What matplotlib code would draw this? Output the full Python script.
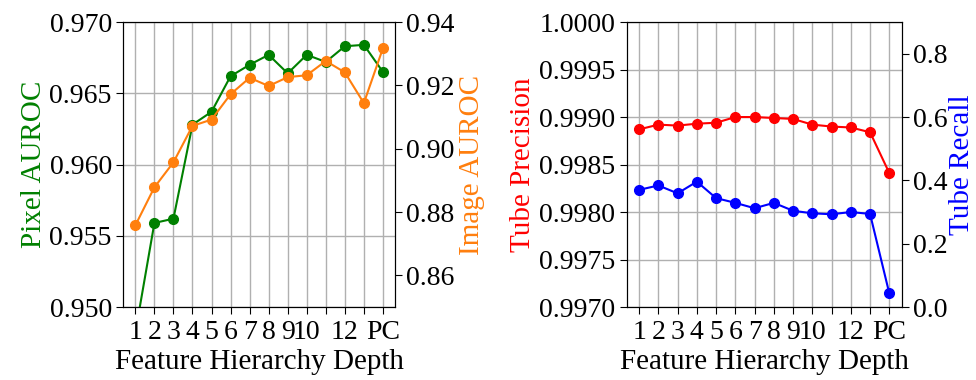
import matplotlib
matplotlib.use("Agg")
import matplotlib.pyplot as plt

plt.rcParams['font.family'] = ['Liberation Serif', 'DejaVu Serif']
plt.rcParams['font.size'] = 20
plt.rcParams['mathtext.fontset'] = 'stix'

positions = list(range(1, 15))
tick_labels = ['1', '2', '3', '4', '5', '6', '7', '8', '9', '10', '', '12', '', 'PC']

pixel_auroc = [0.9482, 0.9559, 0.9562, 0.9628, 0.9637, 0.9662, 0.9670, 0.9677,
               0.9664, 0.9677, 0.9672, 0.9683, 0.9684, 0.9665]
image_auroc = [0.8758, 0.8878, 0.8957, 0.9072, 0.9092, 0.9172, 0.9224, 0.9198,
               0.9226, 0.9232, 0.9277, 0.9241, 0.9144, 0.9317]
tube_precision = [0.99887, 0.99892, 0.99891, 0.99893, 0.99894, 0.99900, 0.99900,
                  0.99899, 0.99898, 0.99892, 0.99890, 0.99889, 0.99884, 0.99841]
tube_recall = [0.370, 0.384, 0.359, 0.396, 0.344, 0.329, 0.312, 0.329, 0.304,
               0.296, 0.293, 0.300, 0.294, 0.043]

fig = plt.figure(figsize=(9.76, 3.8), dpi=100)
ax1 = fig.add_axes([0.126, 0.192, 0.279, 0.750])
ax2 = fig.add_axes([0.642, 0.192, 0.282, 0.750])

lw = 1.5
ms = 7
lab_fs = 21

# Left panel
ax1.plot(positions, pixel_auroc, '-o', color='green', lw=lw, ms=ms, zorder=3)
ax1.set_ylim(0.950, 0.970)
ax1.set_yticks([0.950, 0.955, 0.960, 0.965, 0.970])
ax1.set_yticklabels(['0.950', '0.955', '0.960', '0.965', '0.970'])
ax1.set_ylabel('Pixel AUROC', color='green', labelpad=2, fontsize=lab_fs)
ax1.set_xticks(positions)
ax1.set_xticklabels(tick_labels)
ax1.set_xlim(0.35, 14.65)
ax1.grid(True, color='#b0b0b0', lw=1)
ax1.set_axisbelow(True)
ax1.set_xlabel('Feature Hierarchy Depth', labelpad=3, fontsize=lab_fs)

ax1b = ax1.twinx()
ax1b.plot(positions, image_auroc, '-o', color='#ff7f0e', lw=lw, ms=ms, zorder=3)
ax1b.set_ylim(0.85, 0.94)
ax1b.set_yticks([0.86, 0.88, 0.90, 0.92, 0.94])
ax1b.set_yticklabels(['0.86', '0.88', '0.90', '0.92', '0.94'])
ax1b.set_ylabel('Image AUROC', color='#ff7f0e', labelpad=3, fontsize=lab_fs)

# Right panel
ax2.plot(positions, tube_precision, '-o', color='red', lw=lw, ms=ms, zorder=3)
ax2.set_ylim(0.9970, 1.0000)
ax2.set_yticks([0.9970, 0.9975, 0.9980, 0.9985, 0.9990, 0.9995, 1.0000])
ax2.set_yticklabels(['0.9970', '0.9975', '0.9980', '0.9985', '0.9990', '0.9995', '1.0000'])
ax2.set_ylabel('Tube Precision', color='red', labelpad=2, fontsize=lab_fs)
ax2.set_xticks(positions)
ax2.set_xticklabels(tick_labels)
ax2.set_xlim(0.35, 14.65)
ax2.grid(True, color='#b0b0b0', lw=1)
ax2.set_axisbelow(True)
ax2.set_xlabel('Feature Hierarchy Depth', labelpad=3, fontsize=lab_fs)

ax2b = ax2.twinx()
ax2b.plot(positions, tube_recall, '-o', color='blue', lw=lw, ms=ms, zorder=3)
ax2b.set_ylim(0.0, 0.9)
ax2b.set_yticks([0.0, 0.2, 0.4, 0.6, 0.8])
ax2b.set_yticklabels(['0.0', '0.2', '0.4', '0.6', '0.8'])
ax2b.set_ylabel('Tube Recall', color='blue', labelpad=1, fontsize=lab_fs)

for a in (ax1, ax2):
    a.tick_params(axis='x', length=5, pad=4)
    a.tick_params(axis='y', length=5, pad=3)
for a in (ax1b, ax2b):
    a.tick_params(axis='y', length=5, pad=3)

fig.savefig('out.png', dpi=100)
